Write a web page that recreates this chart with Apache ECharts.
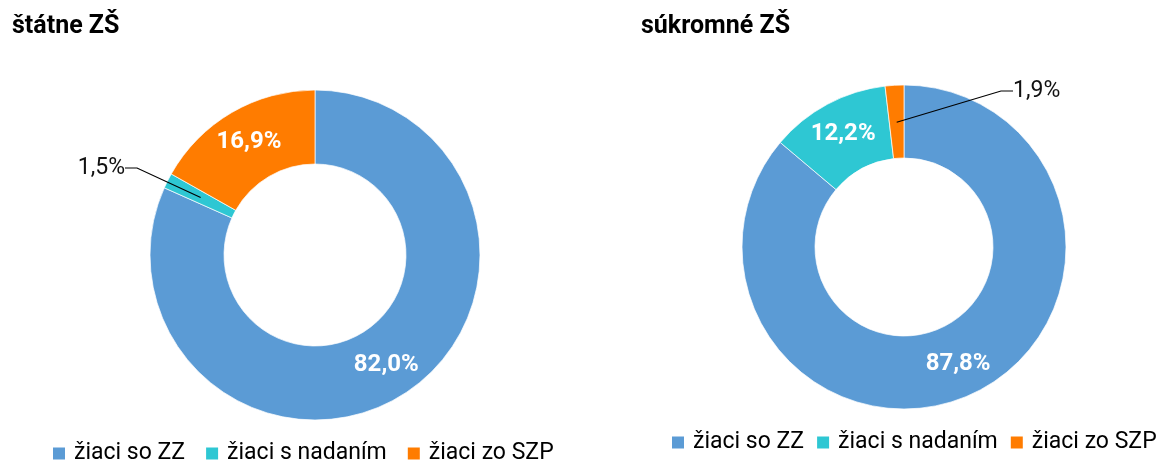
<!DOCTYPE html>
<html lang="sk">
<head>
    <meta charset="UTF-8">
    <title>ZŠ</title>
    <script type="text/javascript" src="https://cdn.jsdelivr.net/npm/echarts@6/dist/echarts.min.js"></script>
</head>
<body style="margin:0;background:#fff;">
    <div id="main" style="width: 1160px;height:461px;"></div>

    <script type="text/javascript">

    var categories = ['žiaci so ZZ', 'žiaci s nadaním', 'žiaci zo SZP'];
    var statneValues = [82.0, 1.5, 16.9];      // štátne ZŠ
    var sukromneValues = [87.8, 12.2, 1.9];    // súkromné ZŠ
    var titles = ['štátne ZŠ', 'súkromné ZŠ'];

    var blue = '#5B9BD5';
    var teal = '#2EC7D3';
    var orange = '#FF7C00';
    var colorList = [blue, teal, orange];

    var fontName = 'Roboto';

    function fmt(p) {
        return p.value.toFixed(1).replace('.', ',') + '%';
    }

    // big slices get white labels inside the ring, small ones are labelled from a hidden ring
    function buildData(values, outsideIdx) {
        return values.map(function (v, i) {
            return {
                name: categories[i],
                value: v,
                label: {show: i !== outsideIdx}
            };
        });
    }

    function hiddenData(values, outsideIdx) {
        return values.map(function (v, i) {
            return {
                name: categories[i],
                value: v,
                label: {show: i === outsideIdx}
            };
        });
    }

    function visiblePie(values, center, radius, outsideIdx) {
        return {
            type: 'pie',
            center: center,
            radius: radius,
            startAngle: 90,
            clockwise: true,
            avoidLabelOverlap: false,
            itemStyle: {borderColor: '#ffffff', borderWidth: 0.7},
            label: {
                position: 'inside',
                formatter: fmt,
                color: '#ffffff',
                fontFamily: fontName,
                fontWeight: 'bold',
                fontSize: 24
            },
            labelLine: {show: false},
            emphasis: {disabled: true},
            data: buildData(values, outsideIdx)
        };
    }

    function hiddenPie(values, center, radius, outsideIdx, pos) {
        return {
            type: 'pie',
            z: 5,
            center: center,
            radius: radius,
            startAngle: 90,
            clockwise: true,
            silent: true,
            avoidLabelOverlap: false,
            itemStyle: {color: 'rgba(0,0,0,0)'},
            label: {
                position: 'outside',
                formatter: fmt,
                color: '#111111',
                fontFamily: fontName,
                fontSize: 23,
                padding: [0, 9]
            },
            labelLine: {
                show: true,
                length: 50,
                length2: 12,
                lineStyle: {color: '#000000', width: 1.2}
            },
            labelLayout: function (params) {
                if (params.dataIndex !== outsideIdx) return {};
                return {x: pos[0], y: pos[1], align: pos[2], verticalAlign: 'middle'};
            },
            emphasis: {disabled: true},
            data: hiddenData(values, outsideIdx)
        };
    }

    function legendAt(left, top, gap, w) {
        return {
            data: categories,
            left: left, top: top,
            width: w,
            padding: 0,
            icon: 'rect', itemWidth: 14, itemHeight: 14, itemGap: gap,
            selectedMode: false,
            textStyle: {fontFamily: fontName, fontSize: 23, color: '#000', padding: [0, 0, 0, 3]}
        };
    }

    var myChart = echarts.init(document.getElementById('main'));

    var option = {
        animation: false,
        backgroundColor: '#ffffff',
        color: colorList,
        title: [
            {text: titles[0], left: 7, top: 9,
             textStyle: {fontFamily: fontName, fontWeight: 'bold', fontSize: 25, color: '#000'}},
            {text: titles[1], left: 636, top: 9,
             textStyle: {fontFamily: fontName, fontWeight: 'bold', fontSize: 25, color: '#000'}}
        ],
        legend: [
            legendAt(51, 442, 19, 560),
            legendAt(670, 431, 11, 500)
        ],
        series: [
            visiblePie(statneValues, [315, 255], [91, 165], 1),
            visiblePie(sukromneValues, [904, 247], [89, 162], 2),
            hiddenPie(statneValues, [315, 255], [91, 128], 1, [134, 168, 'right']),
            hiddenPie(sukromneValues, [904, 247], [89, 125], 2, [1004, 91, 'left'])
        ]
    };

    myChart.setOption(option);
    </script>
</body>
</html>
